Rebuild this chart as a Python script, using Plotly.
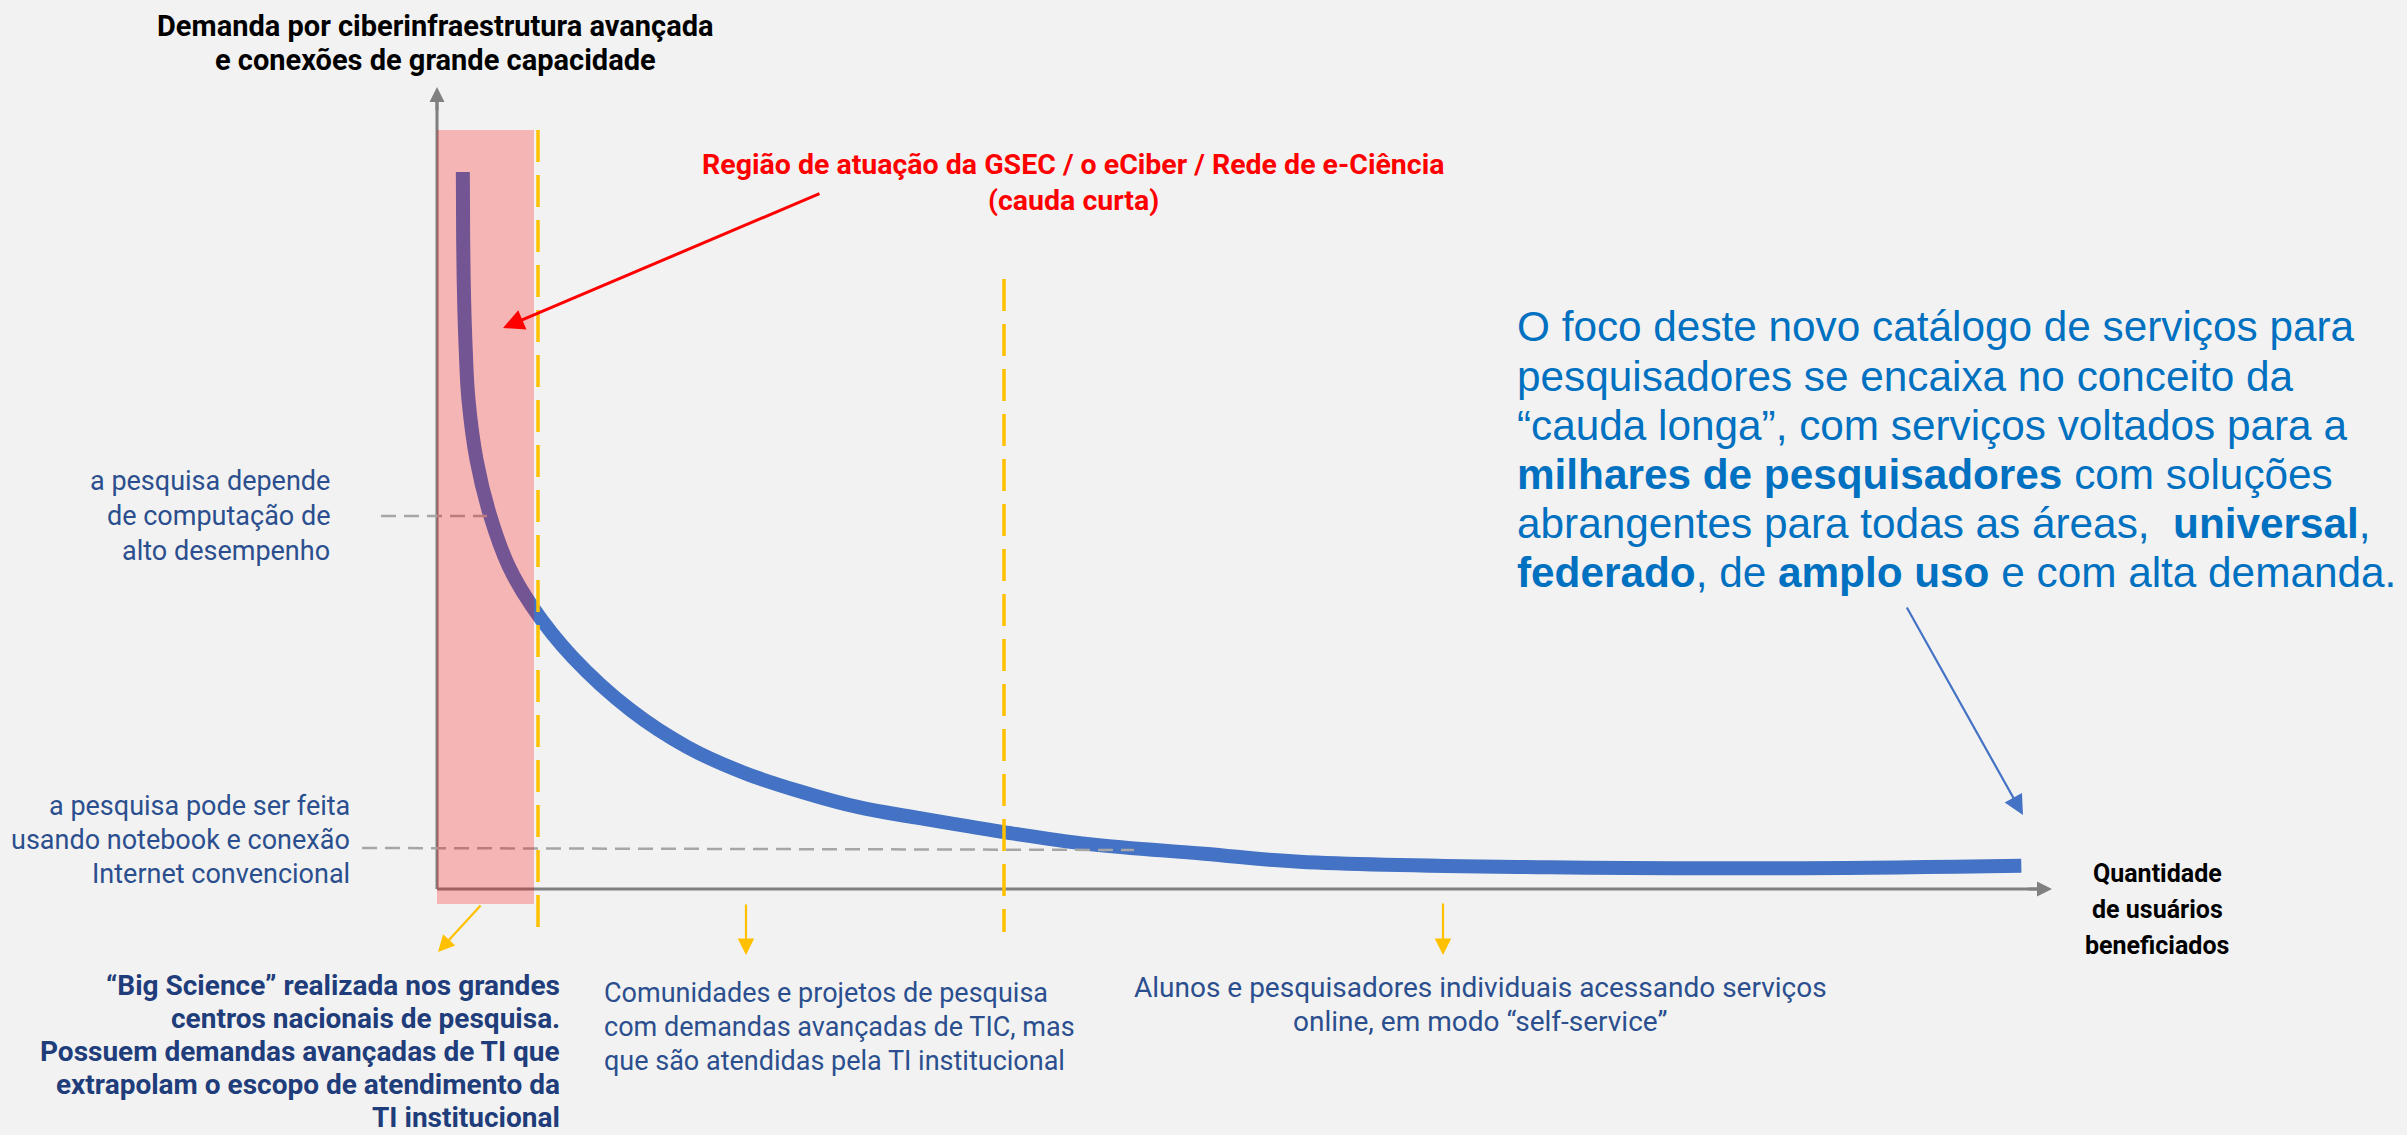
import plotly.graph_objects as go

W, H = 2407, 1135
BG = "#F2F2F2"

# ---- data (conceptual units, 0-100 on both axes) ----
usuarios = [1.60, 1.62, 1.68, 1.78, 1.95, 2.45, 3.30, 4.45, 5.90, 8.4, 12.0, 15.5, 19.0,
            22.6, 26.1, 29.7, 35.1, 40.4, 47.5, 53.4, 68.9, 84.4, 98.1]
demanda = [89.4, 80.9, 73.4, 67.2, 61.0, 53.5, 46.5, 40.2, 35.2, 28.9, 22.3, 17.7,
           14.5, 12.1, 10.2, 8.9, 7.1, 5.6, 4.4, 3.4, 2.7, 2.6, 2.9]

titulo_y = ["Demanda por ciberinfraestrutura avançada", "e conexões de grande capacidade"]
titulo_x = ["Quantidade", "de usuários", "beneficiados"]
texto_vermelho = ["Região de atuação da GSEC / o eCiber / Rede de e-Ciência", "(cauda curta)"]
rotulo_alto = ["a pesquisa depende", "de computação de", "alto desempenho"]
rotulo_baixo = ["a pesquisa pode ser feita", "usando notebook e conexão", "Internet convencional"]
texto_big = ["“Big Science” realizada nos grandes", "centros nacionais de pesquisa.",
             "Possuem demandas avançadas de TI que", "extrapolam o escopo de atendimento da",
             "TI institucional"]
texto_comunidades = ["Comunidades e projetos de pesquisa", "com demandas avançadas de TIC, mas",
                     "que são atendidas pela TI institucional"]
texto_alunos = ["Alunos e pesquisadores individuais acessando serviços", "online, em modo “self-service”"]
texto_foco = [
    "O foco deste novo catálogo de serviços para",
    "pesquisadores se encaixa no conceito da",
    "“cauda longa”, com serviços voltados para a",
    "<b>milhares de pesquisadores</b> com soluções",
    "abrangentes para todas as áreas, \u00a0<b>universal</b>,",
    "<b>federado</b>, de <b>amplo uso</b> e com alta demanda.",
]

# ---- layout helpers (pixel -> paper) ----
def xp(px):
    return px / W

def yp(py):
    return 1 - py / H

X0, X1 = 437, 2052   # axis origin / x arrow tip (px)
Y0, Y1 = 889, 87     # axis origin / y arrow tip (px)

fig = go.Figure()
fig.add_trace(go.Scatter(
    x=usuarios, y=demanda, mode="lines",
    line=dict(color="#4472C4", width=14, shape="spline", smoothing=1.1),
    hoverinfo="skip", showlegend=False,
))

shapes = []
shapes.append(dict(type="line", xref="paper", yref="paper", x0=xp(X0), x1=xp(X1 - 12),
                   y0=yp(Y0), y1=yp(Y0), line=dict(color="#808080", width=3), layer="above"))
shapes.append(dict(type="line", xref="paper", yref="paper", x0=xp(X0), x1=xp(X0),
                   y0=yp(Y0), y1=yp(Y1 + 12), line=dict(color="#808080", width=3), layer="above"))
shapes.append(dict(type="line", xref="paper", yref="paper", x0=xp(381), x1=xp(487),
                   y0=yp(516), y1=yp(516), line=dict(color="#A6A6A6", width=2.5, dash="15px,8px"), layer="above"))
shapes.append(dict(type="line", xref="paper", yref="paper", x0=xp(362), x1=xp(1134),
                   y0=yp(848), y1=yp(850), line=dict(color="#A6A6A6", width=2.5, dash="15px,8px"), layer="above"))
shapes.append(dict(type="line", xref="paper", yref="paper", x0=xp(538), x1=xp(538),
                   y0=yp(130), y1=yp(932), line=dict(color="#FFC000", width=3.5, dash="32px,13px"), layer="above"))
shapes.append(dict(type="line", xref="paper", yref="paper", x0=xp(1004), x1=xp(1004),
                   y0=yp(279), y1=yp(932), line=dict(color="#FFC000", width=3.5, dash="32px,13px"), layer="above"))
shapes.append(dict(type="rect", xref="paper", yref="paper", x0=xp(437), x1=xp(534),
                   y0=yp(904), y1=yp(130), fillcolor="rgba(255,0,0,0.25)", line=dict(width=0), layer="above"))

ann = []
def arrow(tx, ty, fx, fy, color, width, size, head=2):
    ann.append(dict(xref="paper", yref="paper", x=xp(tx), y=yp(ty), ax=fx - tx, ay=fy - ty,
                    axref="pixel", ayref="pixel", text="", showarrow=True,
                    arrowcolor=color, arrowwidth=width, arrowsize=size, arrowhead=head))

arrow(X1, Y0, X1 - 25, Y0, "#808080", 3, 1.0)
arrow(X0, Y1, X0, Y1 + 25, "#808080", 3, 1.0)
arrow(503, 328, 821, 193, "#FF0000", 3, 1.4)
arrow(2023, 815, 1906, 606, "#4472C4", 2.2, 1.8)
arrow(438, 952, 482, 904, "#FFC000", 2.2, 1.5)
arrow(746, 955, 746, 903, "#FFC000", 2.2, 1.5)
arrow(1443, 955, 1443, 902, "#FFC000", 2.2, 1.5)

def text(lines, x, y_first, spacing, size, color, bold=False, xanchor="center",
         family="Roboto"):
    for i, line in enumerate(lines):
        ann.append(dict(xref="paper", yref="paper", x=xp(x), y=yp(y_first + spacing * i),
                        text=line, showarrow=False, xanchor=xanchor, yanchor="middle",
                        font=dict(family=family, size=size, color=color,
                                  weight="bold" if bold else "normal")))

text(titulo_y, 435, 26, 34, 29, "#000000", bold=True)
text(titulo_x, 2157, 873, 36, 25, "#000000", bold=True)
text(texto_vermelho, 1073, 164, 36, 28.5, "#FF0000", bold=True)
text(rotulo_alto, 332, 481, 35, 27, "#2B4F8E", xanchor="right")
text(rotulo_baixo, 352, 806, 34, 27, "#2B4F8E", xanchor="right")
text(texto_big, 562, 985, 33, 28, "#1F3D7A", bold=True, xanchor="right")
text(texto_comunidades, 602, 993, 34, 27, "#2B4F8E", xanchor="left")
text(texto_alunos, 1481, 987, 34, 28, "#2B4F8E")
text(texto_foco, 1515, 327, 49, 42.3, "#0070C0", xanchor="left", family="Liberation Sans, Arial")

fig.update_layout(
    width=W, height=H, autosize=False,
    margin=dict(l=0, r=0, t=0, b=0),
    paper_bgcolor=BG, plot_bgcolor=BG,
    xaxis=dict(domain=[xp(X0), xp(X1)], range=[0, 100], visible=False, fixedrange=True),
    yaxis=dict(domain=[yp(Y0), yp(Y1)], range=[0, 100], visible=False, fixedrange=True),
    shapes=shapes, annotations=ann, showlegend=False,
)

fig.write_html("out.html", config={"displayModeBar": False},
               post_script="document.body.style.margin='0px';document.body.style.overflow='hidden';")
